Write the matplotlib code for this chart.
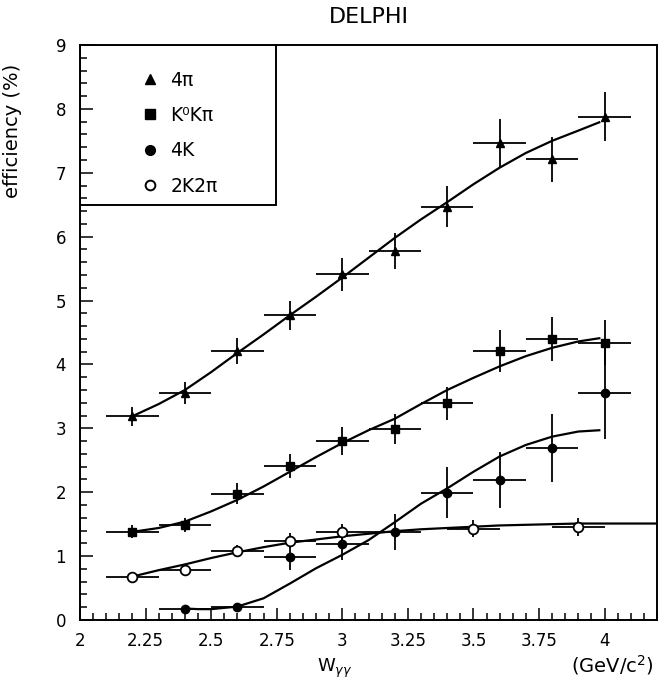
import matplotlib
matplotlib.use("Agg")
import matplotlib.pyplot as plt
from matplotlib.ticker import MultipleLocator, FuncFormatter
from matplotlib.patches import Rectangle
from matplotlib.lines import Line2D

# measured efficiencies (%) per W_gg bin
x_4pi = [2.2, 2.4, 2.6, 2.8, 3.0, 3.2, 3.4, 3.6, 3.8, 4.0]
y_4pi = [3.19, 3.55, 4.21, 4.77, 5.41, 5.78, 6.47, 7.46, 7.21, 7.88]
e_4pi = [0.15, 0.17, 0.21, 0.23, 0.26, 0.28, 0.32, 0.38, 0.35, 0.39]

x_k0 = [2.2, 2.4, 2.6, 2.8, 3.0, 3.2, 3.4, 3.6, 3.8, 4.0]
y_k0 = [1.38, 1.48, 1.98, 2.41, 2.80, 2.99, 3.39, 4.21, 4.40, 4.34]
e_k0 = [0.10, 0.11, 0.17, 0.19, 0.22, 0.23, 0.26, 0.33, 0.34, 0.35]

x_4k = [2.4, 2.6, 2.8, 3.0, 3.2, 3.4, 3.6, 3.8, 4.0]
y_4k = [0.18, 0.20, 0.99, 1.19, 1.38, 1.99, 2.19, 2.69, 3.55]
e_4k = [0.02, 0.02, 0.21, 0.25, 0.28, 0.40, 0.44, 0.53, 0.72]

x_2k = [2.2, 2.4, 2.6, 2.8, 3.0, 3.5, 3.9]
y_2k = [0.68, 0.78, 1.08, 1.24, 1.38, 1.43, 1.46]
e_2k = [0.03, 0.03, 0.09, 0.12, 0.13, 0.13, 0.14]
xe = 0.1

# fitted curves
cx_4pi = [2.2, 2.3, 2.4, 2.5, 2.6, 2.7, 2.8, 2.9, 3.0, 3.1, 3.2, 3.3, 3.4, 3.5, 3.6, 3.7, 3.8, 3.9, 3.98]
cy_4pi = [3.19, 3.38, 3.6, 3.88, 4.18, 4.47, 4.77, 5.06, 5.36, 5.67, 5.98, 6.27, 6.54, 6.82, 7.08, 7.31, 7.5, 7.66, 7.79]
cx_k0 = [2.2, 2.3, 2.4, 2.5, 2.6, 2.7, 2.8, 2.9, 3.0, 3.1, 3.2, 3.3, 3.4, 3.5, 3.6, 3.7, 3.8, 3.9, 3.98]
cy_k0 = [1.38, 1.44, 1.54, 1.7, 1.88, 2.09, 2.32, 2.55, 2.77, 2.97, 3.15, 3.38, 3.6, 3.79, 3.97, 4.13, 4.26, 4.36, 4.41]
cx_4k = [2.4, 2.45, 2.5, 2.6, 2.7, 2.8, 2.9, 3.0, 3.1, 3.2, 3.3, 3.4, 3.5, 3.6, 3.7, 3.8, 3.9, 3.98]
cy_4k = [0.18, 0.17, 0.17, 0.21, 0.34, 0.57, 0.81, 1.02, 1.25, 1.53, 1.82, 2.06, 2.32, 2.56, 2.74, 2.87, 2.95, 2.97]
cx_2k = [2.2, 2.3, 2.4, 2.5, 2.6, 2.7, 2.8, 2.9, 3.0, 3.1, 3.2, 3.3, 3.4, 3.5, 3.6, 3.7, 3.8, 3.9, 4.0, 4.1, 4.2]
cy_2k = [0.68, 0.78, 0.87, 0.97, 1.06, 1.14, 1.21, 1.26, 1.31, 1.35, 1.39, 1.42, 1.44, 1.46, 1.48, 1.49, 1.50, 1.51, 1.51, 1.51, 1.51]

labels = ["4π", "K⁰Kπ", "4K", "2K2π"]

plt.rcParams['font.family'] = ['DejaVu Sans']
plt.rcParams['mathtext.fontset'] = 'dejavusans'

fig = plt.figure(figsize=(6.58, 6.85), dpi=100)
ax = fig.add_axes([80/658, 65/685, 577/658, 575/685])

ebkw = dict(ecolor='k', elinewidth=1.3, capsize=0, linestyle='none', color='k')
ax.errorbar(x_4pi, y_4pi, yerr=e_4pi, xerr=xe, marker='^', markersize=6, **ebkw)
ax.errorbar(x_k0, y_k0, yerr=e_k0, xerr=xe, marker='s', markersize=6, **ebkw)
ax.errorbar(x_4k, y_4k, yerr=e_4k, xerr=xe, marker='o', markersize=6, **ebkw)
ax.errorbar(x_2k, y_2k, yerr=e_2k, xerr=xe, marker='o', markersize=7,
            markerfacecolor='white', markeredgecolor='k', markeredgewidth=1.3, **ebkw)

for cx, cy in [(cx_4pi, cy_4pi), (cx_k0, cy_k0), (cx_4k, cy_4k), (cx_2k, cy_2k)]:
    ax.plot(cx, cy, 'k-', linewidth=1.6)

ax.set_xlim(2, 4.2)
ax.set_ylim(0, 9)
ax.xaxis.set_major_locator(MultipleLocator(0.25))
ax.xaxis.set_minor_locator(MultipleLocator(0.05))
ax.yaxis.set_major_locator(MultipleLocator(1))
ax.yaxis.set_minor_locator(MultipleLocator(0.2))
ax.xaxis.set_major_formatter(FuncFormatter(lambda v, p: '%g' % v))
ax.tick_params(which='both', direction='in', top=False, right=False, width=1.1,
               labelsize=12)
ax.tick_params(which='major', length=9)
ax.tick_params(which='minor', length=5)
ax.tick_params(axis='y', pad=10)
ax.tick_params(axis='x', pad=9)
for s in ax.spines.values():
    s.set_linewidth(1.4)

ax.set_title('DELPHI', fontsize=16, pad=16)
ax.set_ylabel('efficiency (%)', fontsize=14)
ax.yaxis.set_label_coords(-0.1, 0.85)
ax.text((335-80)/577, -48/575, r'W$_{\gamma\gamma}$', transform=ax.transAxes,
        ha='center', va='center', fontsize=13)
ax.text(0.995, -45/575, '(GeV/c$^2$)', transform=ax.transAxes, ha='right', va='center',
        fontsize=14)

# legend box
ax.add_patch(Rectangle((0, 1 - 160/575), 196/577, 160/575, transform=ax.transAxes,
                       fill=False, edgecolor='k', linewidth=1.4, zorder=5))
handles = [Line2D([], [], color='k', marker='^', linestyle='none', markersize=7),
           Line2D([], [], color='k', marker='s', linestyle='none', markersize=7),
           Line2D([], [], color='k', marker='o', linestyle='none', markersize=7),
           Line2D([], [], color='k', marker='o', linestyle='none', markersize=7,
                  markerfacecolor='white', markeredgewidth=1.4)]
ax.legend(handles, labels, loc='upper left', bbox_to_anchor=(0.075, 0.985), frameon=False,
          fontsize=13.5, labelspacing=0.88, handletextpad=0.6, handlelength=1.0)

fig.savefig('out.png', dpi=100)
